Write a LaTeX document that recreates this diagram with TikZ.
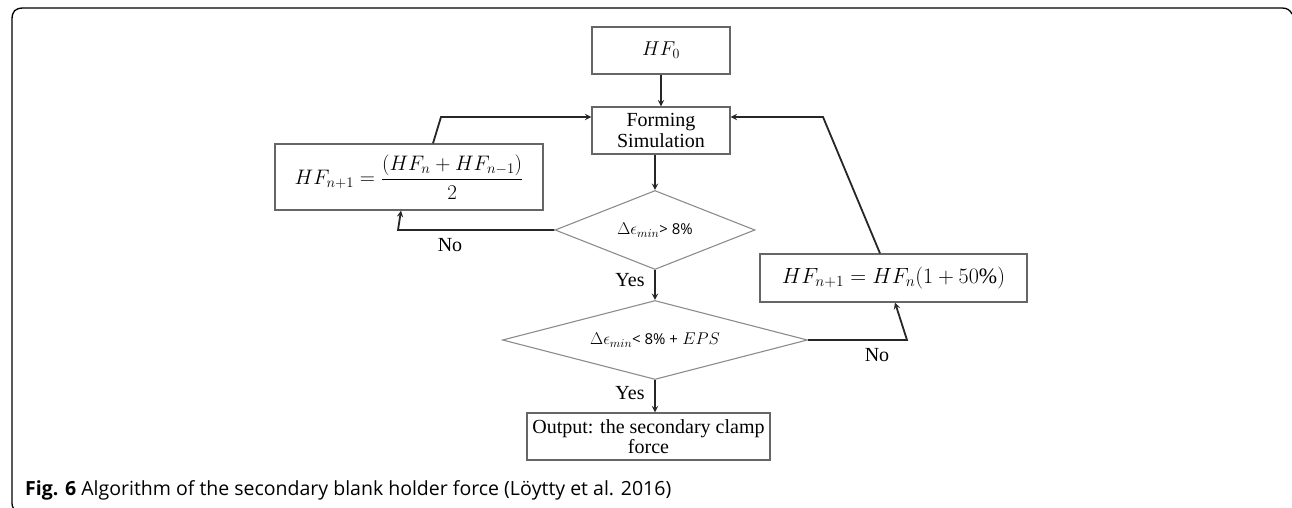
\RequirePackage{fix-cm}
\documentclass[tikz,border=0pt]{standalone}
\usepackage{mathtools}
\usepackage{fontspec}
\setmainfont{Liberation Serif}
\newfontfamily\capfont{Open Sans}
\usetikzlibrary{shapes.geometric}
\tikzset{
    stepbox/.style={rectangle,draw=black!60,line width=1.3pt, inner sep=0, align=center},
    test/.style={diamond,draw=black!45,line width=1.1pt, inner sep=0, aspect=2.5},
    link/.style={->,>=stealth,draw=black!85,line width=1.8pt},
    word/.style={inner sep=0, font=\fontsize{20}{20}\selectfont}
}

\begin{document}
\begin{tikzpicture}[x=1pt,y=-1pt]
    \useasboundingbox (0,0) rectangle (1292,508);
    % frame
    \draw[line width=1.3pt] (16,510) .. controls (12,508) and (12,506) .. (12,500)
        -- (12,20) .. controls (12,11) and (15,8) .. (24,8) -- (1282,8)
        .. controls (1287,8) and (1290,10) .. (1292,14);

    \node[stepbox, minimum width=138, minimum height=47, font=\fontsize{20}{20}\selectfont] (hf0) at (661,50.5) {$HF_0$};
    \node[stepbox, minimum width=138, minimum height=47, font=\fontsize{20}{21}\selectfont] (sim) at (661,130.5) {Forming\\Simulation};
    \node[test, minimum width=200, minimum height=79, font=\fontsize{17}{17}\selectfont] (d1) at (655,230)
        {$\Delta\epsilon_{min}${\capfont\fontsize{15}{15}\selectfont> 8\%}};
    \node[test, minimum width=305, minimum height=79, font=\fontsize{17}{17}\selectfont] (d2) at (655,340)
        {$\Delta\epsilon_{min}${\capfont\fontsize{15}{15}\selectfont< 8\% +} $EPS$};
    \node[stepbox, minimum width=243, minimum height=47, font=\fontsize{20}{20}\selectfont] (out) at (648.5,436.5)
        {Output: the secondary clamp\\force};
    \node[stepbox, minimum width=268, minimum height=66, font=\fontsize{21}{21}\selectfont] (lbox) at (409,177)
        {$HF_{n+1}=\dfrac{(HF_n+HF_{n-1})}{2}$};
    \node[stepbox, minimum width=267, minimum height=48, font=\fontsize{22}{22}\selectfont] (rbox) at (893.5,278)
        {$HF_{n+1}=HF_n(1+50\%)$};

    \coordinate (lbend) at (398,230);
    \coordinate (ltop) at (441,117);
    \coordinate (rbend) at (907,340);
    \coordinate (rtop) at (823,117);

    \draw[link] (hf0) -- (sim);
    \draw[link] (sim.south -| d1.north) -- (d1.north);
    \draw[link] (d1) -- (d2);
    \draw[link] (d2.south) -- (d2.south |- out.north);
    \draw[link] (d1.west) -- (lbend) -- ([xshift=-8]lbox.south);
    \draw[link] ([xshift=24]lbox.north) -- (ltop) -- ([yshift=13.5]sim.west);
    \draw[link] (d2.east) -- (rbend) -- ([xshift=1.5]rbox.south);
    \draw[link] ([xshift=-13.5]rbox.north) -- (rtop) -- ([yshift=13.5]sim.east);

    \node[word] (yes1) at (630,280) {Yes};
    \node[word] (yes2) at (630,393) {Yes};
    \node[word] (no1) at (450,245) {No};
    \node[word] (no2) at (877,355) {No};

    \node[anchor=base west, inner sep=0, font=\capfont\fontsize{19.5}{19.5}\selectfont] (cap) at (25,495)
        {\textbf{Fig. 6} Algorithm of the secondary blank holder force (Löytty et al. 2016)};
\end{tikzpicture}
\end{document}
